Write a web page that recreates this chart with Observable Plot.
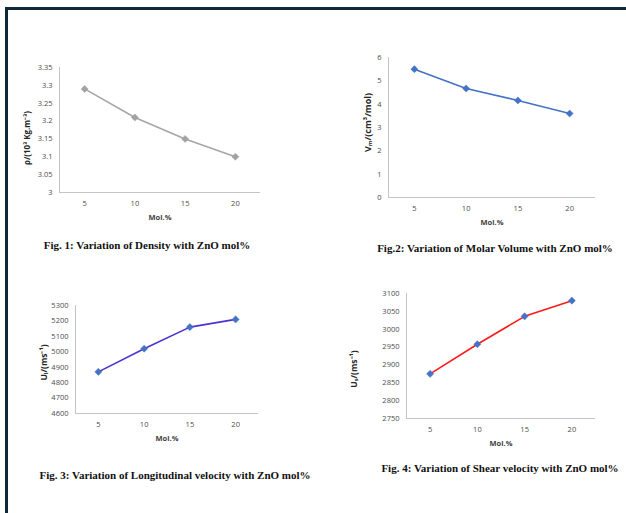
<!DOCTYPE html>
<html>
<head>
<meta charset="utf-8">
<script src="https://cdn.jsdelivr.net/npm/d3@7"></script>
<script src="https://cdn.jsdelivr.net/npm/@observablehq/plot@0.6"></script>
<style>
  html, body { margin: 0; padding: 0; background: #fff; }
  #page { position: relative; width: 626px; height: 513px; overflow: hidden; background: #fff; }
  #frame { position: absolute; left: 5px; top: 7px; right: 0; bottom: 0;
           border-top: 3px solid #10293a; border-left: 3px solid #10293a; }
  .chart { position: absolute; }
  .caption { position: absolute; transform: translate(-50%, -50%); white-space: nowrap;
             font-family: "Liberation Serif", "DejaVu Serif", serif; font-weight: bold;
             font-size: 11px; color: #111; }
</style>
</head>
<body>
<div id="page"><div id="frame"></div></div>
<script>
// ---- data ----
const molPct = [5, 10, 15, 20];
const density = [3.29, 3.21, 3.15, 3.10];
const molarVolume = [5.5, 4.67, 4.16, 3.6];
const longVelocity = [4870, 5020, 5160, 5210];
const shearVelocity = [2875, 2958, 3036, 3080];

const densityTicks = [3, 3.05, 3.1, 3.15, 3.2, 3.25, 3.3, 3.35];
const volumeTicks = [0, 1, 2, 3, 4, 5, 6];
const longTicks = [4600, 4700, 4800, 4900, 5000, 5100, 5200, 5300];
const shearTicks = [2750, 2800, 2850, 2900, 2950, 3000, 3050, 3100];

const xLabel = "Mol.%";
const yLabels = ["ρ/(10³ Kg.m⁻³)", "Vₘ/(cm³/mol)", "Uₗ/(ms⁻¹)", "Uₛ/(ms⁻¹)"];
const captions = [
  "Fig. 1: Variation of Density with ZnO mol%",
  "Fig.2: Variation of Molar Volume with ZnO mol%",
  "Fig. 3: Variation of Longitudinal velocity with ZnO mol%",
  "Fig. 4: Variation of Shear velocity with ZnO mol%"
];

// ---- layout (frame boxes) ----
const configs = [
  {values: density, ticks: densityTicks, label: yLabels[0], left: 59, right: 260, top: 67, bottom: 192,
   line: "#a6a6a6", dot: "#a3a3a3", ldx: -32, ldy: 8, lfs: 8, cap: [captions[0], 147, 245]},
  {values: molarVolume, ticks: volumeTicks, label: yLabels[1], left: 388, right: 595, top: 57, bottom: 197,
   line: "#4472c4", dot: "#4472c4", ldx: -20, ldy: -5, lfs: 9, cap: [captions[1], 495, 248]},
  {values: longVelocity, ticks: longTicks, label: yLabels[2], left: 75, right: 258, top: 305, bottom: 413,
   line: "#4a32d4", dot: "#4472c4", ldx: -31, ldy: 3, lfs: 8.5, cap: [captions[2], 175, 475]},
  {values: shearVelocity, ticks: shearTicks, label: yLabels[3], left: 406, right: 595, top: 293, bottom: 418,
   line: "#ff1a1a", dot: "#4472c4", ldx: -52, ldy: 13, lfs: 8.5, cap: [captions[3], 500, 468]}
];

const page = document.getElementById("page");
const mL = 60, mR = 8, mT = 8, mB = 36;

for (const c of configs) {
  const rows = molPct.map((m, i) => ({mol: m, v: c.values[i]}));
  const yDomain = [c.ticks[0], c.ticks[c.ticks.length - 1]];
  const plot = Plot.plot({
    width: mL + (c.right - c.left) + mR,
    height: mT + (c.bottom - c.top) + mB,
    marginLeft: mL, marginRight: mR, marginTop: mT, marginBottom: mB,
    style: {fontFamily: "'Open Sans', 'Liberation Sans', sans-serif", fontSize: "7.5px",
            color: "#4d4d4d", background: "transparent", overflow: "visible"},
    x: {domain: [2.5, 22.5]},
    y: {domain: yDomain},
    marks: [
      Plot.ruleX([2.5], {stroke: "#c4c4c4", strokeWidth: 1}),
      Plot.ruleY([yDomain[0]], {stroke: "#c4c4c4", strokeWidth: 1}),
      Plot.axisX({ticks: molPct, tickSize: 0, tickPadding: 8, label: null, fill: "#4d4d4d"}),
      Plot.axisY({ticks: c.ticks, tickSize: 0, tickPadding: 7, label: null,
                  tickFormat: d => String(d), fill: "#4d4d4d"}),
      Plot.line(rows, {x: "mol", y: "v", stroke: c.line, strokeWidth: 1.6}),
      Plot.dot(rows, {x: "mol", y: "v", symbol: "diamond2", r: 3.2, fill: c.dot, stroke: c.dot, strokeWidth: 0.5}),
      Plot.text([xLabel], {text: d => d, frameAnchor: "bottom", dy: 27, fontWeight: "bold",
                           fill: "#404040", fontSize: 7.5}),
      Plot.text([c.label], {text: d => d, frameAnchor: "left", textAnchor: "middle", rotate: -90,
                            dx: c.ldx, dy: c.ldy, fontWeight: "bold", fill: "#262626", fontSize: c.lfs})
    ]
  });
  plot.classList.add("chart");
  plot.style.left = (c.left - mL) + "px";
  plot.style.top = (c.top - mT) + "px";
  page.appendChild(plot);

  const cap = document.createElement("div");
  cap.className = "caption";
  cap.textContent = c.cap[0];
  cap.style.left = c.cap[1] + "px";
  cap.style.top = c.cap[2] + "px";
  page.appendChild(cap);
}
</script>
</body>
</html>
